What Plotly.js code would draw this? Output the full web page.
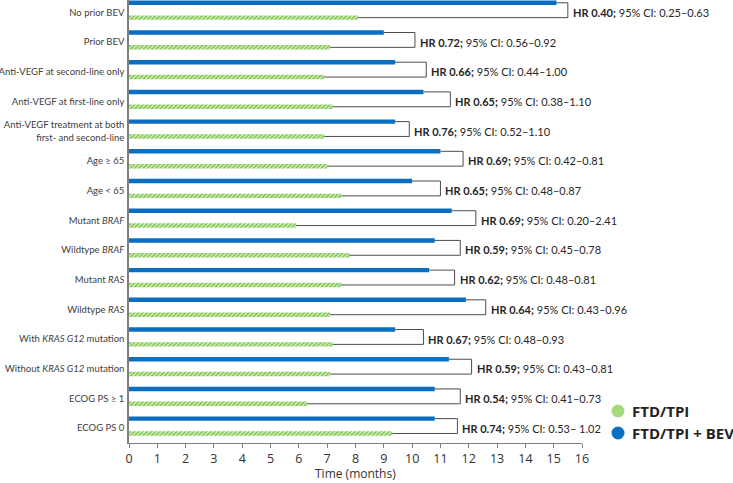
<!DOCTYPE html>
<html>
<head>
<meta charset="utf-8">
<script src="https://cdn.plot.ly/plotly-3.0.1.min.js"></script>
<style>
  body { margin: 0; background: #fff; }
  #chart { width: 733px; height: 483px; }
</style>
</head>
<body>
<div id="chart"></div>
<script>
const subgroups = [
  "No prior BEV", "Prior BEV", "Anti-VEGF at second-line only", "Anti-VEGF at first-line only",
  "Anti-VEGF treatment at both<br>first- and second-line", "Age ≥ 65", "Age < 65",
  "Mutant <i>BRAF</i>", "Wildtype <i>BRAF</i>", "Mutant <i>RAS</i>", "Wildtype <i>RAS</i>",
  "With <i>KRAS G12</i> mutation", "Without <i>KRAS G12</i> mutation", "ECOG PS ≥ 1", "ECOG PS 0"
];
const ftdBev = [15.1, 9.0, 9.4, 10.4, 9.4, 11.0, 10.0, 11.4, 10.8, 10.6, 11.9, 9.4, 11.3, 10.8, 10.8];
const ftd = [8.1, 7.1, 6.9, 7.2, 6.9, 7.0, 7.5, 5.9, 7.8, 7.5, 7.1, 7.2, 7.1, 6.3, 9.3];
const bracketEnd = [15.5, 10.1, 10.5, 11.35, 9.9, 11.8, 11.0, 12.25, 11.7, 11.5, 12.6, 10.4, 12.1, 11.7, 11.6];
const hr = ["0.40", "0.72", "0.66", "0.65", "0.76", "0.69", "0.65", "0.69", "0.59", "0.62", "0.64", "0.67", "0.59", "0.54", "0.74"];
const ci = ["0.25–0.63", "0.56–0.92", "0.44–1.00", "0.38–1.10", "0.52–1.10", "0.42–0.81", "0.48–0.87",
  "0.20–2.41", "0.45–0.78", "0.48–0.81", "0.43–0.96", "0.48–0.93", "0.43–0.81", "0.41–0.73", "0.53– 1.02"];
const legendNames = ["FTD/TPI", "FTD/TPI + BEV"];

const idx = subgroups.map((s, i) => i);
const blueOff = -0.395, greenOff = 0.105, barW = 0.15;
const blueMid = blueOff + barW / 2, greenMid = greenOff + barW / 2;

const traces = [
  {
    type: "bar", orientation: "h", x: ftdBev, y: idx, offset: blueOff, width: barW,
    marker: {color: "#0A6FC2"}, name: legendNames[1], hoverinfo: "x"
  },
  {
    type: "bar", orientation: "h", x: ftd, y: idx, offset: greenOff, width: barW,
    marker: {color: "#ffffff", pattern: {shape: "/", fgcolor: "#7CC447", bgcolor: "#D6EFC2", size: 3, solidity: 0.5}},
    name: legendNames[0], hoverinfo: "x"
  }
];

// brackets joining each pair of bars
const shapes = idx.map(i => ({
  type: "path", xref: "x", yref: "y",
  path: `M ${ftdBev[i]} ${i + blueMid} L ${bracketEnd[i]} ${i + blueMid} L ${bracketEnd[i]} ${i + greenMid} L ${ftd[i]} ${i + greenMid}`,
  line: {color: "#4d4d4d", width: 1}
}));

const annotations = idx.map(i => ({
  x: bracketEnd[i], y: i, xref: "x", yref: "y", xanchor: "left", xshift: 3,
  showarrow: false, text: `<b>HR ${hr[i]};</b> 95% CI: ${ci[i]}`,
  font: {family: "Lato, sans-serif", size: 11, color: "#262626"}
}));

// custom legend (circles) below the annotations
const legendColors = ["#A6DA7E", "#0A6FC2"];
const legendY = [411, 433];
legendNames.forEach((n, k) => {
  shapes.push({
    type: "circle", xref: "paper", yref: "paper", xsizemode: "pixel", ysizemode: "pixel",
    xanchor: (618 - 129) / 453, yanchor: (443 - legendY[k]) / 443,
    x0: -6.5, x1: 6.5, y0: -6.5, y1: 6.5,
    fillcolor: legendColors[k], line: {width: 0}
  });
  annotations.push({
    xref: "paper", yref: "paper", x: (618 - 129) / 453, y: (443 - legendY[k]) / 443,
    xanchor: "left", yanchor: "middle", xshift: 12, showarrow: false, text: `<b>${n}</b>`,
    font: {family: "Open Sans, sans-serif", size: 15, color: "#222"}
  });
});

annotations.push({
  xref: "paper", yref: "paper", x: 0.5, y: 0, yshift: -40, xanchor: "center", yanchor: "bottom",
  borderpad: 0, showarrow: false, text: "Time (months)",
  font: {family: "Open Sans, sans-serif", size: 12, color: "#333"}
});

const layout = {
  width: 733, height: 483,
  margin: {l: 129, r: 151, t: 0, b: 40},
  paper_bgcolor: "#fff", plot_bgcolor: "#fff",
  barmode: "overlay", showlegend: false,
  xaxis: {
    range: [0, 16], dtick: 1, showgrid: false, zeroline: false,
    showline: true, linecolor: "#7f7f7f", linewidth: 1,
    ticks: "outside", ticklen: 4, tickcolor: "#7f7f7f", automargin: false,
    tickfont: {family: "Open Sans, sans-serif", size: 12.5, color: "#333"}
  },
  yaxis: {
    range: [14.5, -0.414], tickvals: idx, ticktext: subgroups,
    showgrid: false, zeroline: false, showline: true, linecolor: "#7f7f7f", linewidth: 1.5,
    ticks: "", ticklabelstandoff: 1, automargin: false,
    tickfont: {family: "Lato, sans-serif", size: 9.5, color: "#404040"}
  },
  shapes: shapes,
  annotations: annotations
};

Plotly.newPlot("chart", traces, layout, {displayModeBar: false});
</script>
</body>
</html>
